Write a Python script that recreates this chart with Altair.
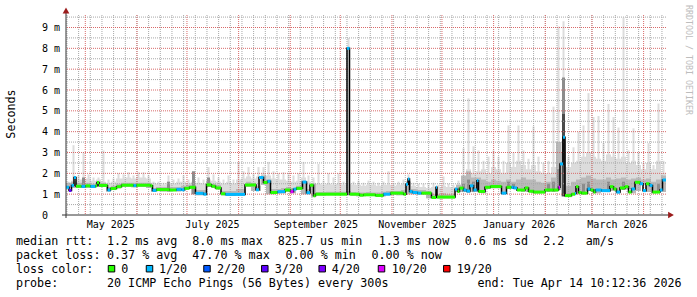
import altair as alt
import pandas as pd
from datetime import datetime, timedelta

# ---------------- data ----------------
END = datetime(2026, 4, 14, 10, 12, 36)
START = END - timedelta(days=360)
Y_MAX = 9.6

# median rtt step segments: start (days after START), median (ms), lost pings of 20
seg_day = [0, 1.8, 3.3, 4.8, 6.0, 9.3, 11.7, 14.7, 17.7, 18.6,
           19.8, 24.9, 26.7, 30.3, 33.3, 40.5, 42.3, 50.7, 51.9, 54.3,
           62.1, 66.3, 69.3, 71.1, 74.1, 77.7, 82.5, 84.3, 87.3, 89.7,
           93.0, 95.7, 107.4, 114.0, 115.8, 118.5, 120.9, 122.7, 126.9, 131.4,
           134.7, 136.5, 138.3, 141.9, 144.3, 146.4, 148.5, 149.7, 168.6, 170.1,
           176.1, 178.5, 185.7, 190.5, 194.7, 202.5, 204.0, 205.2, 206.1, 207.9,
           210.9, 213.3, 219.3, 222.0, 222.6, 233.4, 234.9, 236.1, 238.5, 240.3,
           242.4, 244.5, 246.5, 247.5, 251.4, 254.7, 261.3, 264.3, 267.3, 268.5,
           270.6, 275.4, 277.5, 280.5, 287.4, 292.5, 295.5, 296.4, 298.2, 299.4,
           303.3, 305.4, 306.0, 307.5, 309.3, 312.9, 314.7, 316.5, 317.7, 321.3,
           326.4, 328.5, 330.3, 332.4, 335.4, 337.5, 339.3, 341.4, 344.4, 346.2,
           348.0, 350.1, 351.9, 356.4, 357.9]
seg_ms = [1.33, 1.18, 1.42, 1.80, 1.38, 1.37, 1.40, 1.37, 1.40, 1.56,
          1.42, 1.20, 1.27, 1.36, 1.43, 1.41, 1.43, 1.40, 1.18, 1.22,
          1.20, 1.23, 1.21, 1.28, 1.33, 1.04, 1.00, 1.45, 1.38, 1.30,
          1.02, 0.99, 1.44, 1.21, 1.80, 1.56, 1.62, 1.08, 1.12, 1.20,
          1.12, 1.24, 1.28, 1.58, 1.07, 1.43, 0.92, 1.00, 8.00, 1.00,
          0.95, 0.97, 0.94, 1.00, 1.05, 1.00, 1.48, 1.73, 1.13, 1.08,
          1.05, 1.05, 0.84, 1.33, 0.86, 1.24, 1.13, 1.29, 1.20, 1.15,
          1.40, 1.20, 1.65, 1.13, 1.33, 1.37, 1.05, 1.33, 1.33, 1.30,
          1.20, 1.30, 1.14, 1.10, 1.20, 1.20, 1.33, 2.45, 3.73, 0.93,
          1.00, 1.03, 1.36, 1.08, 1.05, 1.25, 1.20, 1.10, 1.20, 1.17,
          1.36, 1.25, 1.10, 1.30, 1.36, 1.10, 1.25, 1.57, 1.50, 1.17,
          1.50, 1.42, 1.10, 1.20, 1.68]
seg_loss = [1, 3, 1, 1, 0, 1, 0, 1, 0, 0,
            0, 1, 0, 0, 0, 1, 0, 0, 1, 0,
            0, 1, 1, 0, 0, 1, 1, 0, 0, 0,
            0, 1, 0, 1, 1, 0, 1, 0, 1, 0,
            10, 1, 0, 1, 1, 0, 0, 0, 1, 0,
            0, 0, 0, 1, 0, 0, 1, 1, 1, 1,
            1, 0, 0, 1, 0, 1, 0, 0, 1, 1,
            1, 1, 1, 0, 0, 0, 1, 0, 1, 1,
            0, 0, 0, 0, 0, 0, 10, 1, 1, 0,
            0, 1, 0, 0, 0, 1, 0, 0, 1, 1,
            0, 0, 1, 0, 0, 0, 1, 0, 1, 1,
            0, 1, 0, 1, 1]

# smoke, one value per 3-day bin (120 bins), in ms
smoke_low = [1.28, 1.3, 1.3, 1.3, 1.3, 1.3, 1.35, 1.35, 1.12, 1.2, 1.28, 1.35, 1.35, 1.33, 1.35, 1.35, 1.3,
             1.12, 1.15, 1.13, 1.13, 1.15, 1.13, 1.18, 1.25, 1.0, 0.95, 0.95,
             1.35, 1.3, 1.22,
             0.95, 0.92, 0.92, 0.98, 1.0,
             1.35, 1.15, 1.15, 1.45, 1.0,
             1.0, 1.03, 1.05, 1.1, 1.05, 1.2,
             1.0, 1.0, 0.88,
             0.93, 0.93, 0.95, 0.95, 0.95, 0.95, 0.95,
             0.93, 0.9, 0.9, 0.92, 0.92, 0.9, 0.9, 0.95, 0.98, 0.95, 0.95, 1.0, 1.0, 0.98, 0.98, 0.8, 0.8, 0.8, 0.8, 0.8, 0.8, 1.1,
             1.1, 1.08, 1.1, 1.1, 1.05, 1.25, 1.28, 1.28, 1.0, 1.25, 1.25, 1.15, 1.12, 1.1, 1.05, 1.05, 1.12, 1.12, 1.12,
             1.2, 0.9,
             0.88, 0.95, 1.0, 1.0, 1.15, 1.1, 1.05, 1.1, 1.1, 1.15, 1.05, 1.2, 1.25, 1.05, 1.15, 1.45, 1.1, 1.05, 1.1, 1.1]
smoke_mid = [1.55, 1.6, 1.55, 1.55, 1.55, 1.5, 1.6, 1.55, 1.35, 1.4, 1.5, 1.55, 1.55, 1.55, 1.55, 1.55, 1.55,
             1.3, 1.35, 1.35, 1.35, 1.35, 1.35, 1.4, 1.45, 1.45, 1.2, 1.2,
             1.6, 1.5, 1.45,
             1.15, 1.15, 1.15, 1.25, 1.25,
             1.6, 1.55, 1.4, 1.9, 1.7,
             1.25, 1.25, 1.3, 1.35, 1.3, 1.4,
             1.65, 1.25, 1.5,
             1.1, 1.1, 1.12, 1.12, 1.12, 1.12, 1.15,
             1.1, 1.08, 1.08, 1.1, 1.08, 1.08, 1.12, 1.15, 1.15, 1.15, 1.2, 1.6, 1.25, 1.2, 1.2, 1.15, 1.0, 1.0, 1.05, 1.0, 1.0, 1.45,
             1.9, 2.1, 1.8, 1.8, 1.7, 1.6, 1.7, 1.65, 1.6, 1.7, 1.6, 1.7, 1.8, 1.7, 1.7, 1.6, 1.55, 1.6, 1.8,
             3.5, 3.0,
             1.4, 1.6, 1.7, 1.8, 1.9, 1.75, 1.7, 1.7, 1.8, 1.7, 1.75, 1.8, 1.7, 1.75, 1.8, 1.7, 1.75, 1.6, 1.7, 1.9]
smoke_bulk = [1.55, 1.65, 1.7, 1.7, 1.75, 1.65, 1.7, 1.6, 1.55, 1.6,
              1.75, 1.75, 1.8, 1.75, 1.8, 1.8, 1.75, 1.55, 1.5, 1.45,
              1.55, 1.5, 1.6, 1.6, 1.55, 1.6, 1.55, 1.5, 1.7, 1.65,
              1.6, 1.5, 1.6, 1.5, 1.7, 1.75, 1.85, 1.75, 1.85, 2.0,
              1.9, 1.75, 1.7, 1.7, 1.65, 1.6, 1.65, 1.8, 1.6, 1.55,
              1.5, 1.45, 1.5, 1.45, 1.5, 1.45, 1.5, 1.45, 1.45, 1.4,
              1.45, 1.45, 1.4, 1.45, 1.45, 1.4, 1.45, 1.5, 1.65, 1.4,
              1.35, 1.35, 1.3, 1.35, 1.3, 1.4, 1.35, 1.35, 1.45, 1.8,
              2.2, 2.0, 2.1, 2.2, 2.0, 2.3, 2.2, 2.0, 2.5, 2.3,
              2.6, 2.4, 2.2, 2.4, 2.1, 2.0, 2.0, 2.3, 3.0, 3.5,
              2.3, 2.5, 2.6, 2.8, 3.0, 2.8, 2.7, 2.6, 2.9, 2.8,
              2.7, 2.8, 2.5, 2.6, 2.4, 2.2, 2.5, 2.2, 2.6, 2.0]
smoke_peak = [1.6, 3.35, 1.9, 3.0, 1.95, 1.8, 1.8, 3.1, 1.7, 1.75,
              2.0, 1.95, 2.05, 1.9, 2.05, 2.05, 1.9, 1.6, 1.6, 1.55,
              1.9, 1.7, 1.75, 1.9, 1.7, 1.95, 1.8, 1.7, 2.3, 1.95,
              1.8, 1.7, 1.9, 1.7, 2.55, 2.1, 2.3, 2.0, 2.3, 2.3,
              2.55, 2.1, 2.0, 2.05, 1.95, 1.9, 2.0, 2.55, 1.9, 1.8,
              2.45, 1.65, 2.0, 1.8, 2.0, 1.6, 8.5, 1.6, 1.65, 1.55,
              1.65, 1.6, 1.55, 1.6, 2.1, 1.55, 1.6, 1.7, 1.95, 1.55,
              1.5, 1.5, 1.45, 1.55, 1.45, 1.85, 1.5, 1.45, 1.65, 3.2,
              5.6, 3.3, 3.1, 2.6, 2.8, 3.1, 2.8, 2.6, 4.3, 3.0,
              4.3, 3.1, 2.7, 4.25, 2.8, 2.5, 2.6, 5.2, 9.05, 9.3,
              2.8, 3.25, 4.0, 4.3, 5.85, 4.7, 4.75, 3.45, 5.33, 4.7,
              4.2, 9.48, 3.1, 4.16, 3.0, 2.5, 3.45, 2.4, 5.35, 2.6]
dark_bin = [3, 20, 25, 28, 79, 80, 81, 88, 89, 96, 97, 98, 99, 103, 104, 108, 111, 118]
dark_top = [1.8, 1.6, 2.1, 1.8, 1.5, 1.7, 1.6, 1.6, 1.5, 1.5, 1.6, 2.2, 6.6, 1.5, 1.6, 1.6, 1.6, 1.5]
core_bin = [99]
core_top = [4.85]

loss_levels = [0, 1, 2, 3, 4, 10, 19]
loss_labels = ["0", "1/20", "2/20", "3/20", "4/20", "10/20", "19/20"]
loss_colors = ["#26ff00", "#00b8ff", "#0059ff", "#5e00ff", "#7e00ff", "#dd00ff", "#ff0000"]

y_ticks = [0, 1, 2, 3, 4, 5, 6, 7, 8, 9]
y_minor = [0.5, 1.5, 2.5, 3.5, 4.5, 5.5, 6.5, 7.5, 8.5, 9.5]
label_months = [(2025, 5), (2025, 7), (2025, 9), (2025, 11), (2026, 1), (2026, 3)]
grid_months = [(2025, 5), (2025, 6), (2025, 7), (2025, 8), (2025, 9), (2025, 10), (2025, 11),
               (2025, 12), (2026, 1), (2026, 2), (2026, 3), (2026, 4)]
first_sunday = datetime(2025, 4, 20)

row1 = ["median rtt:", "1.2 ms avg", "8.0 ms max", "825.7 us min", "1.3 ms now", "0.6 ms sd", "2.2", "am/s"]
row2 = ["packet loss:", "0.37 % avg", "47.70 % max", "0.00 % min", "0.00 % now"]
row3_head = "loss color:"
row4 = ["probe:", "20 ICMP Echo Pings (56 Bytes) every 300s", "end: Tue Apr 14 10:12:36 2026"]
y_title = "Seconds"
signature = "RRDTOOL / TOBI OETIKER"

# ---------------- layout & style ----------------
LEFT, TOP, W, H = 66, 15, 600, 200
MONO = "DejaVu Sans Mono"
LIGHT, MID, DARK, CORE = "#dcdcdc", "#b9b9b9", "#8c8c8c", "#4a4a4a"
MINOR_GRID, MAJOR_GRID = "#a8a8a8", "#d86a6a"
ARROW = "#9b1c1c"
row1_x = [16, 107, 192.3, 277.8, 378.8, 464.8, 543.2, 585.8]
row2_x = [16, 107, 192.3, 285.5, 371.5]
row4_x = [16, 107, 477.5]
row_y = [244.5, 258.7, 272.7, 286.7]
box_x = [111.5, 149.5, 207, 264.8, 322.2, 381.5, 446.8]
box_label_x = [121.3, 159, 217, 274.7, 331.7, 391.7, 456.7]


def tstr(d):
    return d.strftime("%Y-%m-%dT%H:%M:%S")


def at(days):
    return tstr(START + timedelta(days=days))


def dt(d):
    return alt.DateTime(year=d.year, month=d.month, date=d.day,
                        hours=d.hour, minutes=d.minute, seconds=d.second)


xscale = alt.Scale(domain=[dt(START), dt(END)])
yscale = alt.Scale(domain=[0, Y_MAX], nice=False, zero=False)
xaxis = alt.Axis(values=[alt.DateTime(year=y, month=m, date=16) for y, m in label_months],
                 format="%B %Y", labelFont=MONO, labelFontSize=10, labelColor="#000000",
                 labelBaseline="alphabetic", labelPadding=12.7, ticks=False, domain=False,
                 grid=False, labelFlush=False, labelOverlap=False, title=None)
yaxis = alt.Axis(values=y_ticks, labelExpr="datum.value == 0 ? '0' : datum.value + ' m'",
                 labelFont=MONO, labelFontSize=10, labelColor="#000000", labelAlign="left",
                 labelBaseline="middle", labelPadding=24.5, ticks=False, domain=False,
                 grid=False, title=None)


def X(f):
    return alt.X(f, type="temporal", scale=xscale, axis=xaxis)


def Y(f):
    return alt.Y(f, type="quantitative", scale=yscale, axis=yaxis)


# ---------------- frames ----------------
nb = len(smoke_bulk)
bins_step = pd.DataFrame({
    "t": [at(3 * i) for i in range(nb)] + [tstr(END)],
    "low": smoke_low + [smoke_low[-1]],
    "mid": smoke_mid + [smoke_mid[-1]],
    "bulk": smoke_bulk + [smoke_bulk[-1]],
})
bins_c = pd.DataFrame({"tc": [at(3 * i + 1.5) for i in range(nb)], "low": smoke_low, "peak": smoke_peak})
dark_df = pd.DataFrame({"tc": [at(3 * i + 1.5) for i in dark_bin],
                        "low": [smoke_low[i] for i in dark_bin], "top": dark_top})
core_df = pd.DataFrame({"tc": [at(3 * i + 1.5) for i in core_bin],
                        "low": [smoke_low[i] for i in core_bin], "top": core_top})

seg_end = seg_day[1:] + [360]
seg_df = pd.DataFrame({
    "t0": [at(d) for d in seg_day],
    "t1": [at(d) for d in seg_end],
    "ms": seg_ms,
    "loss": [loss_labels[loss_levels.index(v)] for v in seg_loss],
})
step_df = pd.DataFrame({"t": [at(d) for d in seg_day] + [tstr(END)], "ms": seg_ms + [seg_ms[-1]]})

weeks = []
w = first_sunday
while w < END:
    weeks.append(tstr(w))
    w += timedelta(days=7)
weeks_df = pd.DataFrame({"t": weeks})
months_df = pd.DataFrame({"t": [tstr(datetime(y, m, 1)) for y, m in grid_months]})
hminor_df = pd.DataFrame({"v": y_minor})
hmajor_df = pd.DataFrame({"v": y_ticks[1:]})

one = pd.DataFrame({"a": [0]})

layers = []
# smoke
layers.append(alt.Chart(bins_step).mark_area(interpolate="step-after", color=LIGHT)
              .encode(x=X("t"), y=Y("low"), y2="bulk"))
layers.append(alt.Chart(bins_c).mark_rule(color=LIGHT, strokeWidth=2)
              .encode(x=X("tc"), y=Y("low"), y2="peak"))
layers.append(alt.Chart(bins_step).mark_area(interpolate="step-after", color=MID)
              .encode(x=X("t"), y=Y("low"), y2="mid"))
layers.append(alt.Chart(dark_df).mark_rule(color=DARK, strokeWidth=3)
              .encode(x=X("tc"), y=Y("low"), y2="top"))
layers.append(alt.Chart(core_df).mark_rule(color=CORE, strokeWidth=3)
              .encode(x=X("tc"), y=Y("low"), y2="top"))
# grid
layers.append(alt.Chart(weeks_df).mark_rule(color=MINOR_GRID, strokeDash=[1, 1], strokeWidth=1)
              .encode(x=X("t")))
layers.append(alt.Chart(hminor_df).mark_rule(color=MINOR_GRID, strokeDash=[1, 1], strokeWidth=1)
              .encode(y=Y("v")))
layers.append(alt.Chart(months_df).mark_rule(color=MAJOR_GRID, strokeDash=[1, 1], strokeWidth=1)
              .encode(x=X("t")))
layers.append(alt.Chart(hmajor_df).mark_rule(color=MAJOR_GRID, strokeDash=[1, 1], strokeWidth=1)
              .encode(y=Y("v")))
# median
layers.append(alt.Chart(step_df).mark_line(interpolate="step-after", color="#000000", strokeWidth=1.5)
              .encode(x=X("t"), y=Y("ms")))
layers.append(alt.Chart(seg_df).mark_rule(strokeWidth=3)
              .encode(x=X("t0"), x2="t1", y=Y("ms"),
                      color=alt.Color("loss:N", scale=alt.Scale(domain=loss_labels, range=loss_colors),
                                      legend=None)))
# axes lines and arrows
layers.append(alt.Chart(one).mark_rule(color="#333333", strokeWidth=1)
              .encode(x=alt.value(-4), x2=alt.value(603), y=alt.value(H)))
layers.append(alt.Chart(one).mark_rule(color="#333333", strokeWidth=1)
              .encode(x=alt.value(0), y=alt.value(-3), y2=alt.value(H + 3)))
layers.append(alt.Chart(one).mark_point(shape="triangle-right", filled=True, size=45, color=ARROW, opacity=1)
              .encode(x=alt.value(605), y=alt.value(H)))
layers.append(alt.Chart(one).mark_point(shape="triangle-up", filled=True, size=45, color=ARROW, opacity=1)
              .encode(x=alt.value(0), y=alt.value(-4.5)))


def txt(s, x, y, size=11.7, color="#000000", angle=0, align="left", baseline="alphabetic"):
    return (alt.Chart(pd.DataFrame({"s": [s]}))
            .mark_text(font=MONO, fontSize=size, color=color, align=align, baseline=baseline, angle=angle)
            .encode(text="s:N", x=alt.value(x - LEFT), y=alt.value(y - TOP)))


for s, x in zip(row1, row1_x):
    layers.append(txt(s, x, row_y[0]))
for s, x in zip(row2, row2_x):
    layers.append(txt(s, x, row_y[1]))
layers.append(txt(row3_head, 16, row_y[2]))
for lab, col, bx, lx in zip(loss_labels, loss_colors, box_x, box_label_x):
    layers.append(alt.Chart(one).mark_square(size=42, fill=col, stroke="#000000", strokeWidth=1, opacity=1)
                  .encode(x=alt.value(bx - LEFT), y=alt.value(row_y[2] - 4 - TOP)))
    layers.append(txt(lab, lx, row_y[2]))
for s, x in zip(row4, row4_x):
    layers.append(txt(s, x, row_y[3]))
layers.append(txt(y_title, 10.7, 114, angle=270, align="center", baseline="middle"))
layers.append(txt(signature, 687.5, 60, size=8.3, color="#bdbdbd", angle=90, align="center", baseline="middle"))

chart = (alt.layer(*layers)
         .properties(width=W, height=H,
                     padding={"left": LEFT, "top": TOP, "right": 697 - LEFT - W, "bottom": 297 - TOP - H},
                     autosize=alt.AutoSizeParams(type="none"), background="white")
         .configure_view(stroke=None))

chart.save("out.html", embed_options={"renderer": "svg", "actions": False})
